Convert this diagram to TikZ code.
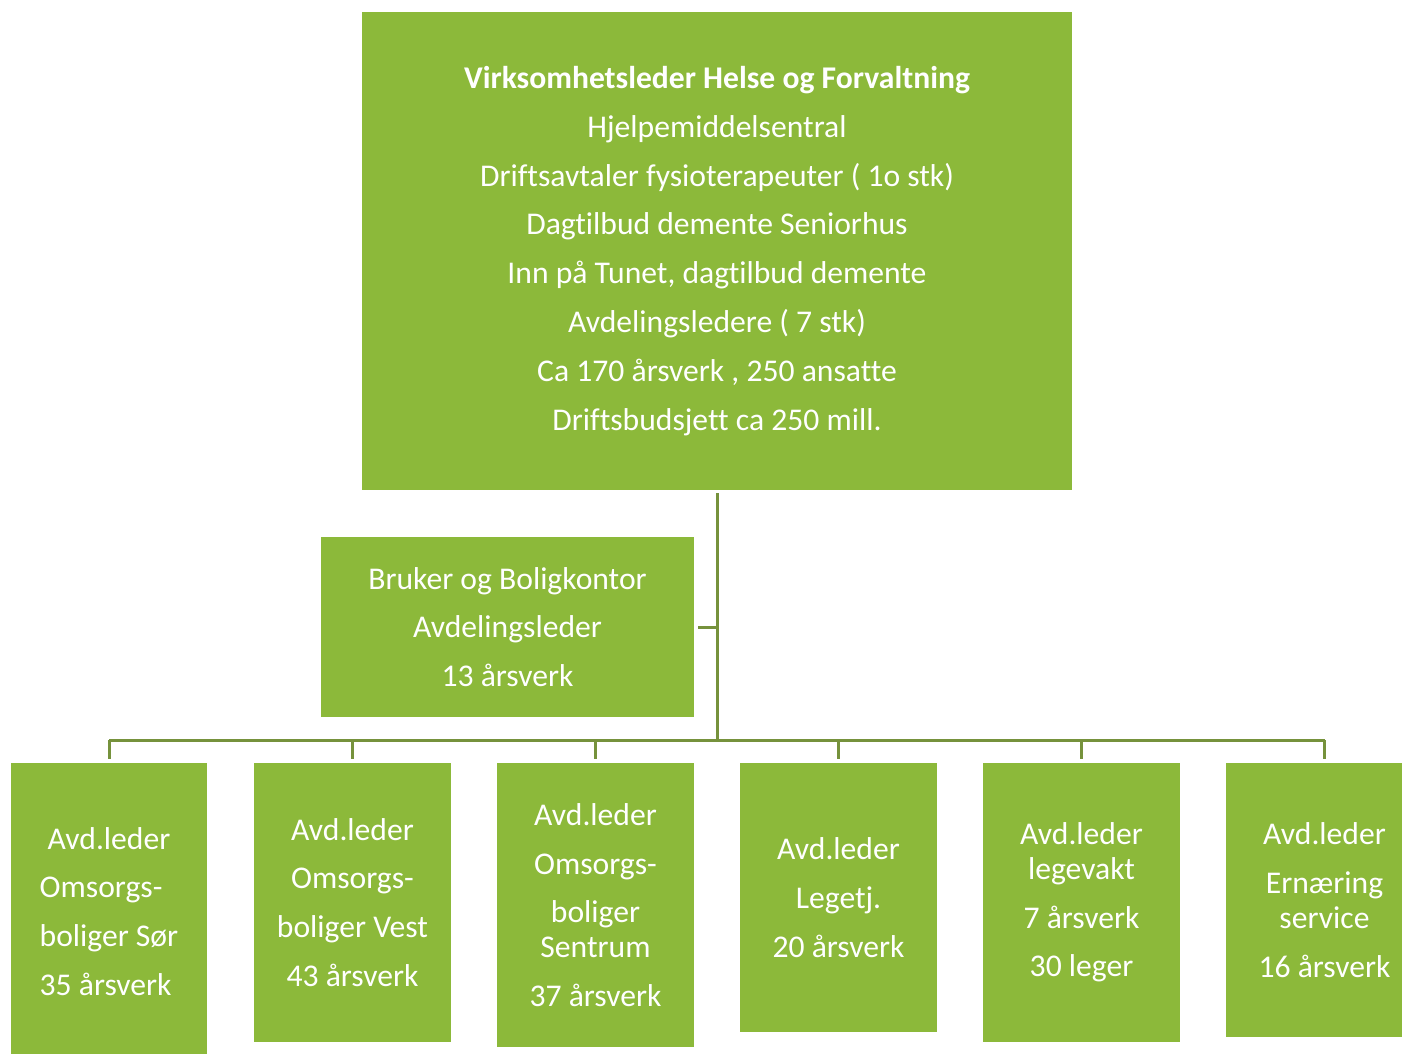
\documentclass[tikz,border=0pt]{standalone}
\usepackage{fontspec}
\setmainfont{Carlito}[Ligatures=NoCommon]
\definecolor{boxgreen}{RGB}{140,185,58}
\definecolor{linegreen}{RGB}{118,146,60}
\tikzset{
    orgbox/.style={fill=boxgreen, text=white, inner sep=0pt, align=center,
        font=\fontsize{18}{19.8}\selectfont},
    link/.style={draw=linegreen, line width=0.06cm}
}

\begin{document}
\begin{tikzpicture}[x=0.02cm, y=-0.02cm]
                % page frame
                \clip (0,0) rectangle (1402,1054);
                \fill[white] (0,0) rectangle (1402,1054);

                % boxes
                \node[orgbox, minimum width=14.2cm, minimum height=9.56cm] (top) at (717,251)
                    {\textbf{Virksomhetsleder Helse og Forvaltning}\\[0.28cm]
                     Hjelpemiddelsentral\\[0.28cm]
                     Driftsavtaler fysioterapeuter ( 1o stk)\\[0.28cm]
                     Dagtilbud demente Seniorhus\\[0.28cm]
                     Inn på Tunet, dagtilbud demente\\[0.28cm]
                     Avdelingsledere ( 7 stk)\\[0.28cm]
                     Ca 170 årsverk , 250 ansatte\\[0.28cm]
                     Driftsbudsjett ca 250 mill.};
                \node[orgbox, minimum width=7.46cm, minimum height=3.6cm] (bruker) at (507.5,627)
                    {Bruker og Boligkontor\\[0.28cm] Avdelingsleder\\[0.28cm] 13 årsverk};

                \node[orgbox, align=left, minimum width=3.92cm, minimum height=5.94cm] (sor) at (109,911.5)
                    {\hspace*{0.16cm}Avd.leder\\[0.28cm] Omsorgs-\\[0.28cm] boliger Sør\\[0.28cm] 35 årsverk};
                \node[orgbox, minimum width=3.94cm, minimum height=5.58cm] (vest) at (352.5,902.5)
                    {Avd.leder\\[0.28cm] Omsorgs-\\[0.28cm] boliger Vest\\[0.28cm] 43 årsverk};
                \node[orgbox, minimum width=3.94cm, minimum height=5.68cm] (sentrum) at (595.5,905)
                    {Avd.leder\\[0.28cm] Omsorgs-\\[0.28cm] boliger\\ Sentrum\\[0.28cm] 37 årsverk};
                \node[orgbox, minimum width=3.94cm, minimum height=5.38cm] (lege) at (838.5,897.5)
                    {Avd.leder\\[0.28cm] Legetj.\\[0.28cm] 20 årsverk};
                \node[orgbox, minimum width=3.94cm, minimum height=5.58cm] (vakt) at (1081.5,902.5)
                    {Avd.leder\\ legevakt\\[0.28cm] 7 årsverk\\[0.28cm] 30 leger};
                \node[orgbox, minimum width=3.94cm, minimum height=5.48cm] (ernaering) at (1324.5,900)
                    {Avd.leder\\[0.28cm] Ernæring\\ service\\[0.28cm] 16 årsverk};

                % connectors
                \coordinate (hub) at (717,740);
                \draw[link] ([yshift=-0.06cm]top.south) -- (hub);
                \draw[link] ([xshift=0.08cm]bruker.east) -- (bruker.east -| hub);
                \draw[link] (sor.north |- hub) -- (ernaering.north |- hub);
                \foreach \b in {sor, vest, sentrum, lege, vakt, ernaering}
                    \draw[link] (\b.north |- hub) -- ([yshift=0.08cm]\b.north);

            \end{tikzpicture}
\end{document}
